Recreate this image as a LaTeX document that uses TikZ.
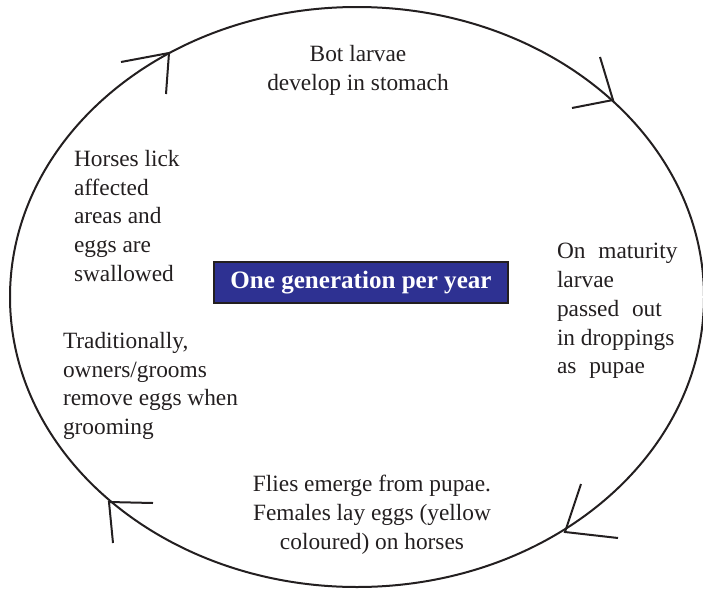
\documentclass[tikz,border=0pt]{standalone}
\usepackage{fontspec}
\setmainfont{Liberation Serif}
\definecolor{genblue}{RGB}{46,49,146}
\definecolor{inkgray}{RGB}{35,31,32}
\tikzset{
  cyclabel/.style={inner sep=0pt, text=inkgray, font=\fontsize{17.5}{21.6}\selectfont},
  genbox/.style={draw=inkgray, fill=genblue, text=white, line width=1.5pt, inner sep=0pt,
    minimum width=220.5pt, minimum height=30.75pt, font=\fontsize{18.8}{22}\selectfont\bfseries}
}
\begin{document}
\begin{tikzpicture}[x=0.75pt,y=-0.75pt,line width=1.5pt]
\useasboundingbox (0,0) rectangle (703,589);
\clip (0,0) rectangle (703,589);
% the cycle
\draw[inkgray] (357,297) ellipse [x radius=347, y radius=290];
\foreach \tx/\ty/\ax/\ay/\bx/\by in {169/53/121/62/166/94, 613/100/600/57/572/108,
  565/532/581/484/618/538, 109/502/153/503/113/543}
  {\draw[inkgray] (\ax,\ay)--(\tx,\ty)--(\bx,\by);}
% stages
\node[genbox] (gen) at (361,282.5) {One generation per year};
\node[cyclabel,align=center] (stomach) at (358,70) {Bot larvae\\develop in stomach};
\node[cyclabel,align=left,anchor=west] (lick) at (73,216) {Horses lick\\affected\\areas and\\eggs are\\swallowed};
\node[cyclabel,align=left,anchor=west] (groom) at (62,386) {Traditionally,\\owners/grooms\\remove eggs when\\grooming};
\node[cyclabel,align=left,anchor=west] (pupae) at (556,311) {On\hspace{.3em} maturity\\larvae\\passed\hspace{.3em} out\\in droppings\\as\hspace{.3em} pupae};
\node[cyclabel,align=center] (flies) at (372,515) {Flies emerge from pupae.\\Females lay eggs (yellow\\coloured) on horses};
\end{tikzpicture}
\end{document}
